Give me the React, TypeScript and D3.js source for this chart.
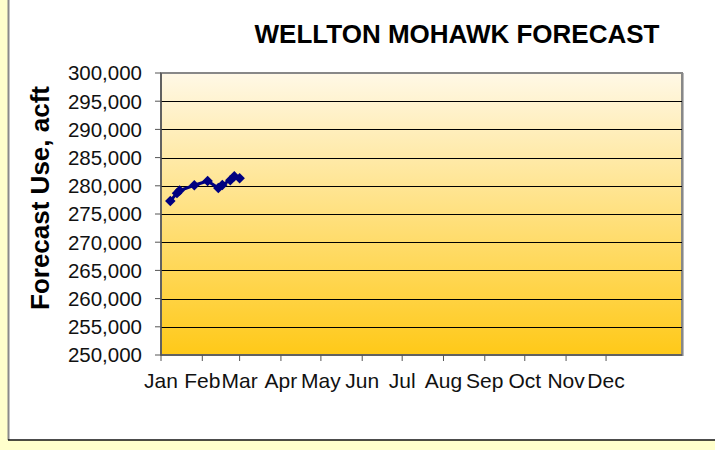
import * as d3 from "d3";

// forecast points (date, acre-feet)
const dates = [
  "2007-01-08", "2007-01-13", "2007-01-15", "2007-01-26", "2007-02-05",
  "2007-02-13", "2007-02-16", "2007-02-22", "2007-02-25", "2007-03-01",
];
const values = [
  277300, 278700, 279150, 280100, 280850, 279600, 280150, 281000, 281700, 281350,
];
const monthLabels = [
  "Jan", "Feb", "Mar", "Apr", "May", "Jun",
  "Jul", "Aug", "Sep", "Oct", "Nov", "Dec",
];
const yTicks = d3.range(250000, 300001, 5000);

const W = 715;
const H = 450;
const plot = { left: 161, right: 682, top: 73, bottom: 355 };

export default function App() {
  const parse = d3.timeParse("%Y-%m-%d");
  const pts = dates.map((d, i) => ({ date: parse(d) as Date, value: values[i] }));

  const x = d3
    .scaleTime()
    .domain([new Date(2007, 0, 1), new Date(2008, 0, 27)])
    .range([plot.left, plot.right]);
  const y = d3.scaleLinear().domain([250000, 300000]).range([plot.bottom, plot.top]);

  const months = monthLabels.map((m, i) => ({ label: m, date: new Date(2007, i, 1) }));
  const fmt = d3.format(",");

  const line = d3
    .line<{ date: Date; value: number }>()
    .x((d) => x(d.date))
    .y((d) => y(d.value));
  const diamond = d3.symbol().type(d3.symbolDiamond2).size(70)();

  const font = "Arial, 'Liberation Sans', sans-serif";

  return (
    <svg
      width={W}
      height={H}
      style={{ position: "fixed", left: 0, top: 0 }}
      fontFamily={font}
    >
      <defs>
        <linearGradient id="bg" x1="0" y1="0" x2="0" y2="1">
          <stop offset="0%" stopColor="#FFF8E6" />
          <stop offset="100%" stopColor="#FFC918" />
        </linearGradient>
      </defs>
      <rect x={0} y={0} width={W} height={H} fill="#FFFFCC" />
      <rect x={8} y={-10} width={W + 10} height={450} fill="#fff" />
      <line x1={8.5} x2={8.5} y1={0} y2={440} stroke="#8a8a8a" strokeWidth={2} />
      <line x1={8} x2={W} y1={440} y2={440} stroke="#111" strokeWidth={1.5} />

      <text x={457} y={43} textAnchor="middle" fontSize={26} fontWeight="bold">
        WELLTON MOHAWK FORECAST
      </text>

      <rect
        x={plot.left}
        y={plot.top}
        width={plot.right - plot.left}
        height={plot.bottom - plot.top}
        fill="url(#bg)"
        stroke="#888"
        strokeWidth={2}
      />
      <line x1={plot.right + 1.5} x2={plot.right + 1.5} y1={plot.top} y2={plot.bottom + 1} stroke="#bbb" strokeWidth={1} />

      {yTicks.slice(1, -1).map((t) => (
        <line key={t} x1={plot.left} x2={plot.right} y1={Math.round(y(t)) + 0.5} y2={Math.round(y(t)) + 0.5} stroke="#000" strokeWidth={1} />
      ))}

      {yTicks.map((t) => (
        <g key={"yt" + t}>
          <line x1={plot.left - 6} x2={plot.left} y1={y(t)} y2={y(t)} stroke="#555" />
          <text x={142} y={y(t)} dy="0.36em" textAnchor="end" fontSize={20.5} fill="#111">
            {fmt(t)}
          </text>
        </g>
      ))}

      <line x1={plot.left} x2={plot.left} y1={plot.top} y2={plot.bottom} stroke="#555" strokeWidth={1.5} />
      <line x1={plot.left} x2={plot.right} y1={plot.bottom} y2={plot.bottom} stroke="#555" strokeWidth={1.5} />

      {months.map((m) => (
        <g key={m.label}>
          <line x1={x(m.date)} x2={x(m.date)} y1={plot.bottom} y2={plot.bottom + 6} stroke="#555" />
          <text x={x(m.date)} y={388} textAnchor="middle" fontSize={21} fill="#111">
            {m.label}
          </text>
        </g>
      ))}

      <text
        transform={`translate(49,198) rotate(-90)`}
        textAnchor="middle"
        fontSize={26}
        fontWeight="bold"
      >
        Forecast Use, acft
      </text>

      <path d={line(pts) ?? ""} fill="none" stroke="#000080" strokeWidth={3} />
      {pts.map((p, i) => (
        <path key={i} d={diamond ?? ""} transform={`translate(${x(p.date)},${y(p.value)})`} fill="#000080" />
      ))}
    </svg>
  );
}
